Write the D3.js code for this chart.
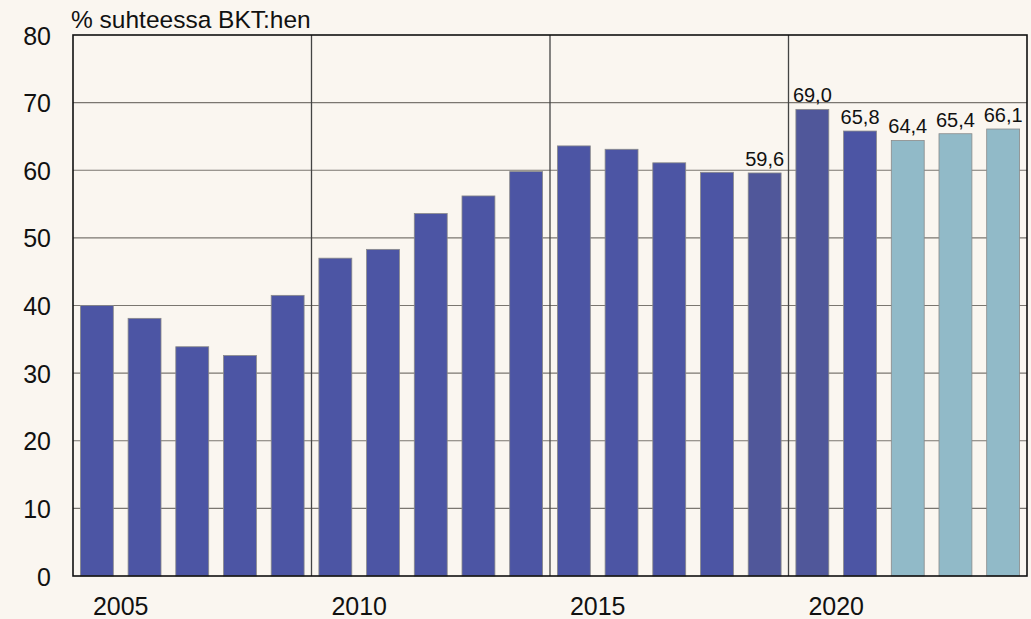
<!DOCTYPE html>
<html>
<head>
<meta charset="utf-8">
<script src="https://cdn.jsdelivr.net/npm/d3@7"></script>
<style>
  body { margin: 0; background: #faf6f0; }
  text { font-family: "Liberation Sans", Arial, sans-serif; fill: #111; }
</style>
</head>
<body>
<div id="chart"></div>
<script>
// data
let years = d3.range(2005, 2025)
let values = [40.0, 38.1, 33.9, 32.6, 41.5, 47.0, 48.3, 53.6, 56.2, 59.8,
              63.6, 63.1, 61.1, 59.7, 59.6, 69.0, 65.8, 64.4, 65.4, 66.1]
let forecastYears = [2022, 2023, 2024]
let labelYears = [2019, 2020, 2021, 2022, 2023, 2024]
let yTicks = [0, 10, 20, 30, 40, 50, 60, 70, 80]
let xLabels = [2005, 2010, 2015, 2020]
let yTitle = '% suhteessa BKT:hen'

let width = 1031
let height = 619
let margin = {left: 73, right: 4, top: 35, bottom: 43}

let svg = d3.select('#chart').append('svg')
    .attr('width', width)
    .attr('height', height)

svg.append('rect').attr('width', width).attr('height', height).attr('fill', '#faf6f0')

let xScale = d3.scaleBand()
    .domain(years)
    .range([margin.left, width - margin.right])
    .paddingInner(0.31)
    .paddingOuter(0.155)

let yScale = d3.scaleLinear()
    .domain([0, 80])
    .range([height - margin.bottom, margin.top])

let gap = xScale.step() * xScale.paddingInner() / 2

// -- horizontal grid
svg.append('g')
    .selectAll('line')
    .data(yTicks.slice(1, -1))
    .enter()
    .append('line')
    .attr('x1', margin.left)
    .attr('x2', width - margin.right)
    .attr('y1', d => yScale(d))
    .attr('y2', d => yScale(d))
    .attr('stroke', '#7a7670')
    .attr('stroke-width', 1.2)

// -- vertical grid between 5-year blocks
svg.append('g')
    .selectAll('line')
    .data([2010, 2015, 2020])
    .enter()
    .append('line')
    .attr('x1', d => xScale(d) - gap)
    .attr('x2', d => xScale(d) - gap)
    .attr('y1', margin.top)
    .attr('y2', height - margin.bottom)
    .attr('stroke', '#444')
    .attr('stroke-width', 1.3)

// -- bars
svg.append('g')
    .selectAll('rect')
    .data(years)
    .enter()
    .append('rect')
    .attr('x', d => xScale(d))
    .attr('y', (d, i) => yScale(values[i]))
    .attr('width', xScale.bandwidth())
    .attr('height', (d, i) => yScale(0) - yScale(values[i]))
    .attr('fill', d => forecastYears.includes(d) ? '#91bac8'
                       : (d == 2019 || d == 2020) ? '#50579a' : '#4c55a4')
    .attr('stroke', '#8a8a8a')
    .attr('stroke-width', 0.8)

// -- value labels
svg.append('g')
    .selectAll('text')
    .data(labelYears)
    .enter()
    .append('text')
    .attr('x', d => xScale(d) + xScale.bandwidth() / 2)
    .attr('y', d => yScale(values[years.indexOf(d)]) - 7)
    .attr('text-anchor', 'middle')
    .style('font-size', '20px')
    .text(d => values[years.indexOf(d)].toFixed(1).replace('.', ','))

// -- frame
svg.append('rect')
    .attr('x', margin.left)
    .attr('y', margin.top)
    .attr('width', width - margin.left - margin.right)
    .attr('height', height - margin.top - margin.bottom)
    .attr('fill', 'none')
    .attr('stroke', '#111')
    .attr('stroke-width', 1.6)

// -- y axis labels
let yAxis = d3.axisLeft(yScale).tickValues(yTicks).tickSize(0).tickPadding(22)
svg.append('g')
    .attr('transform', `translate(${margin.left}, 0)`)
    .call(yAxis)
    .call(g => g.select('.domain').remove())
    .call(g => g.selectAll('text')
        .style('font-size', '25px')
        .attr('fill', '#111')
        .attr('dy', '0.36em'))

// -- x axis labels (centered on the gap after the year's bar)
svg.append('g')
    .selectAll('text')
    .data(xLabels)
    .enter()
    .append('text')
    .attr('x', d => xScale(d) + xScale.bandwidth() + gap)
    .attr('y', 615)
    .attr('text-anchor', 'middle')
    .style('font-size', '25px')
    .text(d => d)

// -- title
svg.append('text')
    .attr('x', 71)
    .attr('y', 28)
    .style('font-size', '24.5px')
    .text(yTitle)
</script>
</body>
</html>
